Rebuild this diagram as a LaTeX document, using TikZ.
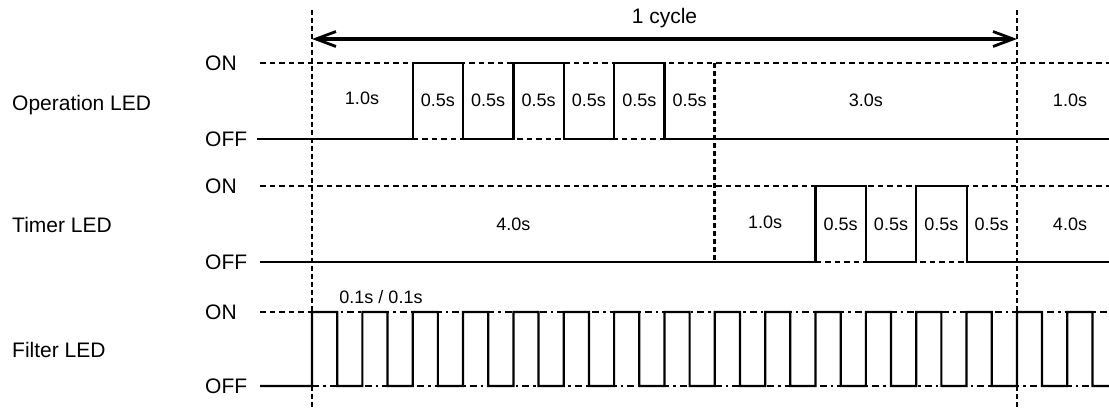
\documentclass[tikz,border=0pt]{standalone}
\usepackage{fontspec}
\setmainfont{Liberation Sans}
\usetikzlibrary{arrows.meta}
\begin{document}
\begin{tikzpicture}[x=1pt,y=-1pt,
  lbl/.style={font=\fontsize{21}{25}\selectfont, inner sep=0pt},
  dur/.style={font=\fontsize{18}{22}\selectfont, inner sep=0pt},
  wave/.style={line width=2.2pt, line join=miter},
  refl/.style={line width=2pt, dash pattern=on 5.5pt off 4pt},
  ddot/.style={line width=2pt, dash pattern=on 7pt off 4pt on 2.5pt off 4pt},
  vdash/.style={line width=2.7pt, dash pattern=on 5pt off 3pt},
  cyc/.style={line width=3.3pt, {Straight Barb[length=20pt,width=15pt,line width=2.8pt]}-{Straight Barb[length=20pt,width=15pt,line width=2.8pt]}}]
\useasboundingbox (0,0) rectangle (1109,408);
\def\h{25.175}
% row labels
\node[lbl, anchor=base west] (opl) at (12,110) {Operation LED};
\node[lbl, anchor=base west] (tml) at (12,232) {Timer LED};
\node[lbl, anchor=base west] (fll) at (12,357) {Filter LED};
\node[lbl, anchor=west] (on1) at (205,63) {ON};
\node[lbl, anchor=west] (off1) at (205,139) {OFF};
\node[lbl, anchor=west] (on2) at (205,186) {ON};
\node[lbl, anchor=west] (off2) at (205,262) {OFF};
\node[lbl, anchor=west] (on3) at (205,312) {ON};
\node[lbl, anchor=west] (off3) at (205,386) {OFF};
% reference levels (dashed)
\draw[refl] (260,63) -- (1109,63);
\draw[refl] (412.7,139) -- (664.5,139);
\draw[refl] (260,186) -- (1109,186);
\draw[refl] (815.5,262) -- (966.6,262);
\draw[refl] (260,312) -- (312,312);
\draw[ddot] (312,312) -- (1109,312);
\draw[ddot] (312,386) -- (1109,386);
% vertical markers
\coordinate (vA1) at (312,10);
\coordinate (vA2) at (312,408);
\coordinate (vB1) at (1017,10);
\coordinate (vB2) at (1017,408);
\coordinate (vC1) at (714.8,63);
\coordinate (vC2) at (714.8,262);
\draw[vdash] (vA1) -- (vA2);
\draw[vdash] (vB1) -- (vB2);
\draw[vdash] (vC1) -- (vC2);
% cycle arrow
\coordinate (cA) at (312,39);
\coordinate (cB) at (1017,39);
\draw[cyc] (cA) -- (cB);
\node[lbl] (cyct) at (664.5,18) {1 cycle};
% operation LED waveform
\draw[wave] (off1.east) ++(10,0) -- (412.7,139) -- (412.7,63) -- (463.1,63) -- (463.1,139)
  -- (513.4,139) -- (513.4,63) -- (563.8,63) -- (563.8,139)
  -- (614.1,139) -- (614.1,63) -- (664.5,63) -- (664.5,139) -- (1109,139);
% timer LED waveform
\draw[wave] (260,262) -- (815.5,262) -- (815.5,186) -- (865.9,186) -- (865.9,262)
  -- (916.2,262) -- (916.2,186) -- (966.6,186) -- (966.6,262) -- (1109,262);
% filter LED waveform
\draw[wave] (260,386) -- (312,386)
  \foreach \k in {0,...,14}{ -- ({312+2*\k*\h},312) -- ({312+(2*\k+1)*\h},312)
     -- ({312+(2*\k+1)*\h},386) -- ({312+(2*\k+2)*\h},386) }
  -- (1067.25,312) -- (1092.4,312) -- (1092.4,386) -- (1109,386);
% durations: operation
\node[dur] (d1) at (362,98) {1.0s};
\node[dur] (d2) at (437.9,100) {0.5s};
\node[dur] (d3) at (488.2,100) {0.5s};
\node[dur] (d4) at (538.6,100) {0.5s};
\node[dur] (d5) at (588.9,100) {0.5s};
\node[dur] (d6) at (639.3,100) {0.5s};
\node[dur] (d7) at (689.6,100) {0.5s};
\node[dur] (d8) at (865.9,100) {3.0s};
\node[dur] (d9) at (1070,100) {1.0s};
% durations: timer
\node[dur] (t1) at (513.4,224) {4.0s};
\node[dur] (t2) at (765.1,222) {1.0s};
\node[dur] (t3) at (840.7,224) {0.5s};
\node[dur] (t4) at (891.0,224) {0.5s};
\node[dur] (t5) at (941.4,224) {0.5s};
\node[dur] (t6) at (991.7,224) {0.5s};
\node[dur] (t7) at (1070,224) {4.0s};
% filter
\node[dur] (f1) at (381,297) {0.1s / 0.1s};
\end{tikzpicture}
\end{document}
